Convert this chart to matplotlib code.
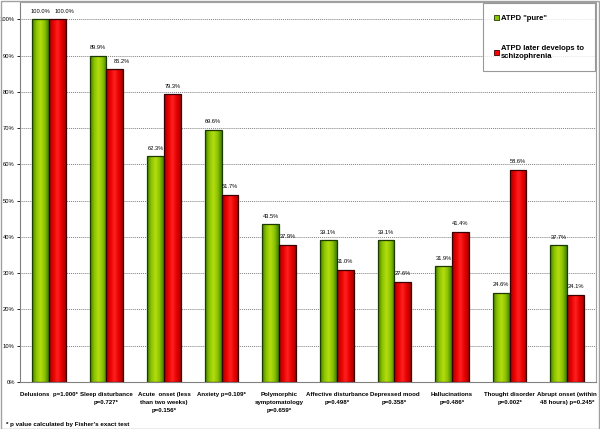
import numpy as np
import matplotlib
matplotlib.use('Agg')
import matplotlib.pyplot as plt
from matplotlib import font_manager
from matplotlib.colors import LinearSegmentedColormap
from matplotlib.patches import Rectangle

# Data
categories = ['Delusions  p=1.000*', 'Sleep disturbance\np=0.727*',
              'Acute  onset (less\nthan two weeks)\np=0.156*', 'Anxiety p=0.109*',
              'Polymorphic\nsymptomatology\np=0.659*', 'Affective disturbance\np=0.498*',
              'Depressed mood\np=0.358*', 'Hallucinations\np=0.486*',
              'Thought disorder\np=0.002*', 'Abrupt onset (within\n48 hours) p=0.245*']
pure = [100.0, 89.9, 62.3, 69.6, 43.5, 39.1, 39.1, 31.9, 24.6, 37.7]
schizo = [100.0, 86.2, 79.3, 51.7, 37.9, 31.0, 27.6, 41.4, 58.6, 24.1]
series_names = ['ATPD "pure"', 'ATPD later develops to\nschizophrenia']
yticks = list(range(0, 101, 10))

# narrow font if there is one
narrow = True
try:
	font_manager.findfont(font_manager.FontProperties(family='Liberation Sans Narrow'), fallback_to_default=False)
except Exception:
	narrow = False
if narrow:
	plt.rcParams['font.family'] = ['Liberation Sans Narrow', 'DejaVu Sans']
	k = 1.0
else:
	plt.rcParams['font.family'] = ['Liberation Sans', 'DejaVu Sans']
	k = 0.84

fig = plt.figure(figsize=(6.0, 4.29), dpi=100)
ax = fig.add_axes([20 / 600, 1 - 382 / 429, 576 / 600, 380 / 429])
fig.patches.append(Rectangle((0.001, 0.001), 0.997, 0.997, transform=fig.transFigure,
                             fill=False, edgecolor='#a0a0a0', linewidth=1))

x = np.arange(len(categories))
w = 0.29
green_cmap = LinearSegmentedColormap.from_list('g', ['#3f7f00', '#8cc400', '#b4dc10', '#8cc400', '#3f7f00'])
red_cmap = LinearSegmentedColormap.from_list('r', ['#a00000', '#e80000', '#ff2020', '#e80000', '#a00000'])

bars1 = ax.bar(x - w / 2, pure, w, color='none', edgecolor='#1f3a00', linewidth=0.9, zorder=3)
bars2 = ax.bar(x + w / 2, schizo, w, color='none', edgecolor='#3a0000', linewidth=0.9, zorder=3)

grad = np.linspace(0, 1, 64).reshape(1, -1)
for bars, cmap in ((bars1, green_cmap), (bars2, red_cmap)):
	for b in bars:
		x0, y0 = b.get_x(), b.get_y()
		im = ax.imshow(grad, cmap=cmap, aspect='auto', zorder=2,
		               extent=(x0, x0 + b.get_width(), y0, y0 + b.get_height()))
		im.set_clip_path(b)

# red labels of the first two groups sit a bit to the right, as in the original
shift = [0, 0, 0, 0, 0, 0, 0, 0, 0, 0]
shift_red = [5, 5, 0, 0, 0, 0, 0, 0, 0, 0]
for bars, vals, sh in ((bars1, pure, shift), (bars2, schizo, shift_red)):
	for b, v, s in zip(bars, vals, sh):
		ax.annotate('%.1f%%' % v, (b.get_x() + b.get_width() / 2, v), xytext=(s, 4),
		            textcoords='offset points', ha='center', va='bottom', fontsize=4.9 * k, zorder=4)

ax.set_xlim(-0.5, len(categories) - 0.5)
ax.set_ylim(0, 104.8)
ax.set_yticks(yticks)
ax.set_yticklabels(['%d%%' % t for t in yticks], fontsize=5.0 * k)
ax.set_xticks(x)
ax.set_xticklabels(categories, fontsize=5.3 * k, fontweight='bold', linespacing=1.75)
ax.tick_params(axis='x', length=0, pad=7.5)
ax.tick_params(axis='y', length=2.5, width=0.6, pad=1.2)
ax.yaxis.grid(True, linestyle=(0, (1, 1)), color='#808080', linewidth=0.7, zorder=0)
ax.set_axisbelow(True)
for s in ('top', 'right'):
	ax.spines[s].set_color('#a0a0a0')
ax.spines['left'].set_color('#808080')
ax.spines['bottom'].set_color('#808080')

# legend
h1 = Rectangle((0, 0), 1, 1, facecolor='#8cc400', edgecolor='#1f3a00', linewidth=0.6)
h2 = Rectangle((0, 0), 1, 1, facecolor='#ff0000', edgecolor='#3a0000', linewidth=0.6)
leg = ax.legend([h1, h2], series_names, loc='upper right', bbox_to_anchor=(0.9985, 0.997),
                fontsize=6.6 * k, frameon=True, fancybox=False, handlelength=0.6, handleheight=0.6,
                handletextpad=0.2, labelspacing=3.0, borderpad=1.5, borderaxespad=0)
leg.get_frame().set_edgecolor('#808080')
leg.get_frame().set_linewidth(0.8)
for t in leg.get_texts():
	t.set_fontweight('bold')

fig.text(6 / 600, 1 - 427 / 429, '* p value calculated by Fisher\u2019s exact test',
         fontsize=5.4 * k, fontweight='bold', va='bottom', ha='left')

fig.savefig('out.png', dpi=100)
